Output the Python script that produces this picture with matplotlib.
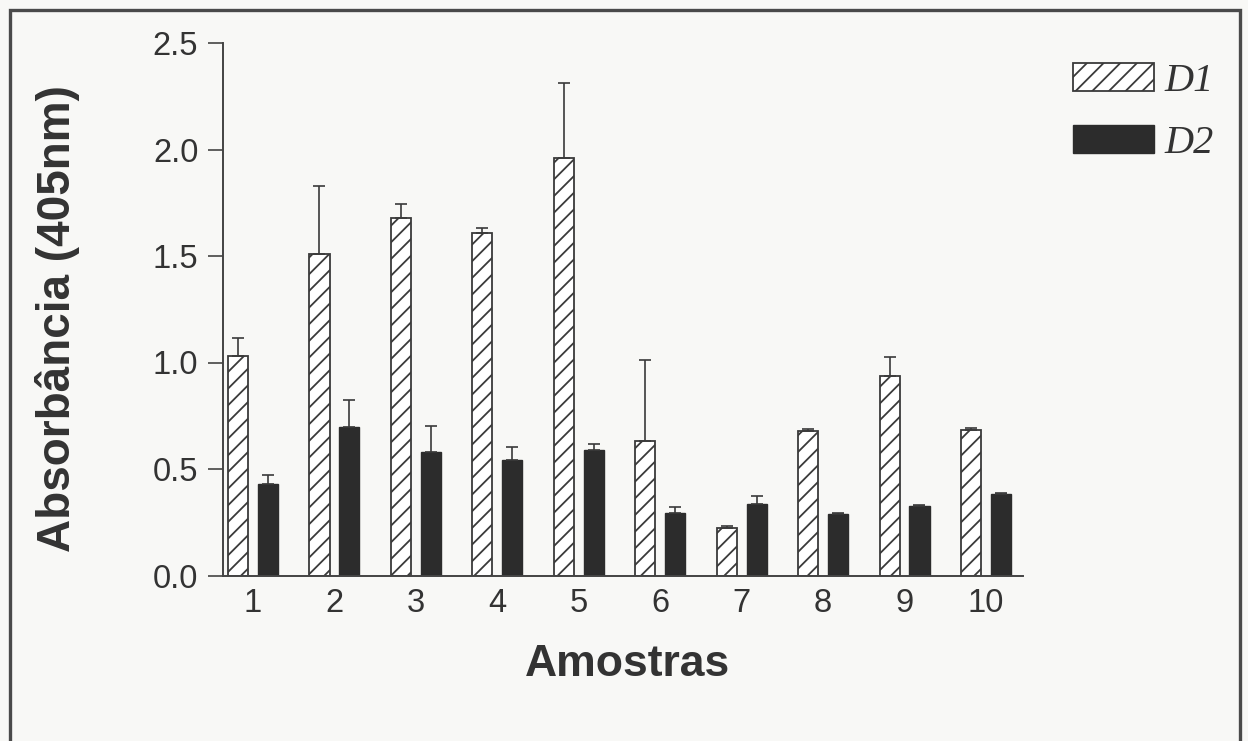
import numpy as np
import matplotlib as mpl
import matplotlib.pyplot as plt
from matplotlib.patches import Rectangle, Patch

mpl.rcParams['font.family'] = ['Liberation Sans', 'DejaVu Sans']
mpl.rcParams['hatch.linewidth'] = 1.3
mpl.rcParams['hatch.color'] = '#3a3a3a'

# data
samples = ['1', '2', '3', '4', '5', '6', '7', '8', '9', '10']
d1 = [1.03, 1.51, 1.68, 1.61, 1.96, 0.63, 0.225, 0.68, 0.935, 0.685]
d1_err = [0.085, 0.32, 0.065, 0.02, 0.35, 0.38, 0.008, 0.008, 0.09, 0.008]
d2 = [0.428, 0.698, 0.579, 0.544, 0.589, 0.293, 0.338, 0.288, 0.325, 0.383]
d2_err = [0.043, 0.124, 0.121, 0.06, 0.03, 0.027, 0.037, 0.005, 0.005, 0.005]
y_ticks = [0.0, 0.5, 1.0, 1.5, 2.0, 2.5]

ink = '#333333'
bg = '#f8f8f6'

fig = plt.figure(figsize=(12.48, 7.41), dpi=100, facecolor=bg)
ax = fig.add_axes([223/1248, 1 - 575.5/741, 800/1248, 532.5/741])
ax.set_facecolor('none')

x = np.arange(1, len(samples) + 1)
bw = 0.246
off = 0.184

ax.bar(x - off, d1, bw, color='white', edgecolor='#3a3a3a', linewidth=1.3,
       hatch='//', label='D1')
ax.bar(x + off, d2, bw, color='#2c2c2c', edgecolor='#2c2c2c', linewidth=1.0,
       label='D2')

ax.errorbar(x - off, d1, yerr=[np.zeros(len(d1)), d1_err], fmt='none',
            ecolor='#3a3a3a', elinewidth=1.2, capsize=4.5, capthick=1.2)
ax.errorbar(x + off, d2, yerr=[np.zeros(len(d2)), d2_err], fmt='none',
            ecolor='#3a3a3a', elinewidth=1.2, capsize=4, capthick=1.2)

ax.set_xlim(0.631, 10.455)
ax.set_ylim(0, 2.5)

for s in ['top', 'right']:
    ax.spines[s].set_visible(False)
for s in ['left', 'bottom']:
    ax.spines[s].set_color('#444444')
    ax.spines[s].set_linewidth(1.4)

ax.set_yticks(y_ticks, [f"{t:.1f}" for t in y_ticks])
ax.set_xticks(x, samples)
ax.tick_params(axis='y', length=10.8, width=1.2, color='#444444',
               labelsize=23.5, labelcolor=ink, pad=7)
ax.tick_params(axis='x', length=0, labelsize=23.5, labelcolor=ink, pad=9)

fig.text(58/1248, 1 - 319/741, 'Absorbância (405nm)', rotation=90,
         ha='center', va='center', fontsize=33, fontweight='bold', color=ink)
fig.text(628/1248, 1 - 665/741, 'Amostras', ha='center', va='center',
         fontsize=32, fontweight='bold', color=ink)

handles = [Patch(facecolor='white', edgecolor='#3a3a3a', hatch='//', linewidth=1.3),
           Patch(facecolor='#2c2c2c', edgecolor='#2c2c2c')]
fig.legend(handles, ['D1', 'D2'], loc='upper left',
           bbox_to_anchor=(1073/1248, 1 - 63/741), frameon=False,
           prop={'family': 'Liberation Serif', 'style': 'italic', 'size': 29},
           handlelength=2.0, handleheight=0.7, handletextpad=0.28,
           labelspacing=0.62, borderpad=0, borderaxespad=0, labelcolor=ink)

# outer frame of the scanned figure
fig.patches.append(Rectangle((10/1248, -0.05), 1230/1248, 1.05 - 10/741,
                             transform=fig.transFigure, fill=False,
                             edgecolor='#4a4a4a', linewidth=2.4))

plt.savefig('out.png', dpi=100, facecolor=bg)
